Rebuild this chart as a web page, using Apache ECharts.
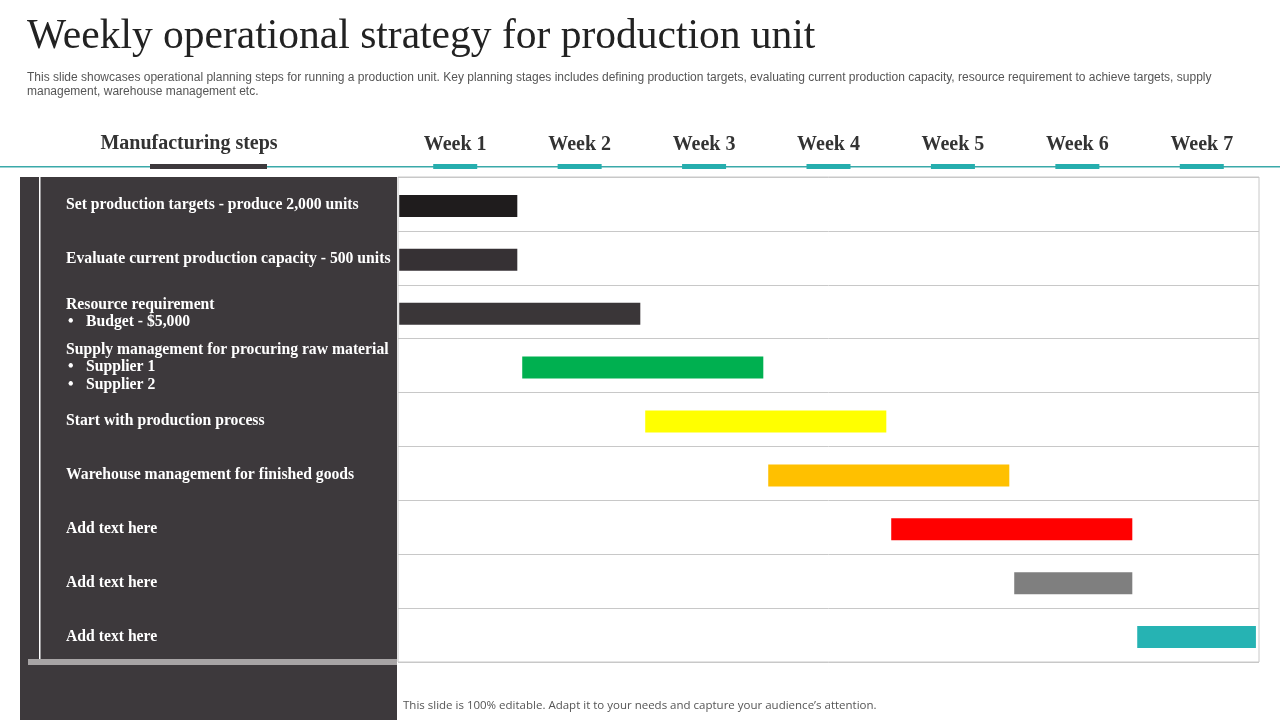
<!DOCTYPE html>
<html>
<head>
<meta charset="utf-8">
<script src="https://cdn.jsdelivr.net/npm/echarts@6/dist/echarts.min.js"></script>
<style>html,body{margin:0;padding:0;background:#fff}#c{width:1280px;height:720px}</style>
</head>
<body>
<div id="c"></div>
<script>
const steps = [
  'Set production targets - produce 2,000 units',
  'Evaluate current production capacity - 500 units',
  'Resource requirement\n{b|•}Budget - $5,000',
  'Supply management for procuring raw material\n{b|•}Supplier 1\n{b|•}Supplier 2',
  'Start with production process',
  'Warehouse management for finished goods',
  'Add text here',
  'Add text here',
  'Add text here'
];
const weeks = ['Week 1','Week 2','Week 3','Week 4','Week 5','Week 6','Week 7'];
const startWeek = [0.01, 0.01, 0.01, 1.01, 2.01, 3.01, 4.01, 5.01, 6.01];
const endWeek   = [0.97, 0.97, 1.97, 2.97, 3.97, 4.97, 5.97, 5.97, 6.975];
const barColors = ['#1f1c1d','#363134','#3a3638','#00b050','#ffff00','#ffc000','#ff0000','#7f7f7f','#26b3b3'];

const serif = '"Liberation Serif", "DejaVu Serif", serif';
const sans = '"Liberation Sans", Arial, sans-serif';

const barData = steps.map((s, i) => [i, startWeek[i], endWeek[i]]);
const weekIdx = weeks.map((w, i) => i);

const chart = echarts.init(document.getElementById('c'));
chart.setOption({
  animation: false,
  backgroundColor: '#fff',
  graphic: [
    { type: 'rect', z: -1, shape: { x: 20, y: 177, width: 377, height: 543 }, style: { fill: '#3d393c' } },
    { type: 'rect', z: -1, shape: { x: 39, y: 177, width: 1.5, height: 483 }, style: { fill: '#ffffff' } },
    { type: 'rect', z: -1, shape: { x: 28, y: 659, width: 369, height: 6 }, style: { fill: '#a7a4a5' } },
    { type: 'rect', shape: { x: 0, y: 166, width: 1280, height: 1.5 }, style: { fill: '#3aa9a9' } },
    { type: 'rect', shape: { x: 150, y: 164, width: 117, height: 5 }, style: { fill: '#3d393c' } },
    { type: 'text', x: 27, y: 37, style: { text: 'Weekly operational strategy for production unit', font: '41.5px ' + serif, fill: '#222', verticalAlign: 'middle' } },
    { type: 'text', x: 27, y: 71, style: { text: 'This slide showcases operational planning steps for running a production unit. Key planning stages includes defining production targets, evaluating current production capacity, resource requirement to achieve targets, supply\nmanagement, warehouse management etc.', font: '12px ' + sans, fill: '#555', lineHeight: 14, verticalAlign: 'top' } },
    { type: 'text', x: 189, y: 144, style: { text: 'Manufacturing steps', font: 'bold 20px ' + serif, fill: '#333', align: 'center', verticalAlign: 'middle' } },
    { type: 'text', x: 403, y: 706, style: { text: 'This slide is 100% editable. Adapt it to your needs and capture your audience\u2019s attention.', font: '11.5px "Open Sans", sans-serif', fill: '#555', verticalAlign: 'middle' } }
  ],
  grid: [
    { left: 398, right: 21, top: 177, bottom: 58, show: true, borderColor: '#c8c8c8', borderWidth: 1, backgroundColor: 'transparent' },
    { left: 393, right: 16, top: 177, bottom: 58, show: false }
  ],
  xAxis: [
    { type: 'value', gridIndex: 0, min: 0, max: 7, interval: 1, show: false },
    { type: 'category', gridIndex: 1, data: weeks, position: 'top', boundaryGap: true,
      axisLine: { show: false }, axisTick: { show: false }, splitLine: { show: false },
      axisLabel: { margin: 22, color: '#333', fontFamily: serif, fontWeight: 'bold', fontSize: 20, lineHeight: 20, interval: 0 } }
  ],
  yAxis: [
    {
      type: 'category', gridIndex: 0, data: steps, inverse: true,
      axisLine: { show: false }, axisTick: { show: false },
      splitLine: { show: true, lineStyle: { color: '#c8c8c8', width: 1 } },
      axisLabel: {
        interval: 0, align: 'left', margin: 332, color: '#fff', fontFamily: serif, fontWeight: 'bold', fontSize: 15.7, lineHeight: 17.5,
        padding: [3, 0, 0, 0],
        rich: { b: { width: 18, color: '#fff', fontFamily: serif, fontWeight: 'bold', fontSize: 15.7, lineHeight: 17.5, padding: [0, 0, 0, 2] } }
      }
    },
    { type: 'value', gridIndex: 1, show: false, min: 0, max: 1 }
  ],
  series: [
    {
      type: 'custom', xAxisIndex: 0, yAxisIndex: 0, data: barData,
      encode: { x: [1, 2], y: 0 },
      renderItem: function (params, api) {
        const row = api.value(0);
        const p0 = api.coord([api.value(1), row]);
        const p1 = api.coord([api.value(2), row]);
        const h = 22;
        return { type: 'rect', shape: { x: p0[0], y: p0[1] - h / 2 + 2, width: p1[0] - p0[0], height: h }, style: { fill: barColors[params.dataIndex] } };
      }
    },
    {
      type: 'custom', xAxisIndex: 1, yAxisIndex: 1, data: weekIdx, clip: false, silent: true,
      encode: { x: 0 },
      renderItem: function (params, api) {
        const p = api.coord([api.value(0), 0]);
        return { type: 'rect', shape: { x: p[0] - 22, y: 164, width: 44, height: 5 }, style: { fill: '#26aeae' } };
      }
    }
  ]
});
</script>
</body>
</html>
